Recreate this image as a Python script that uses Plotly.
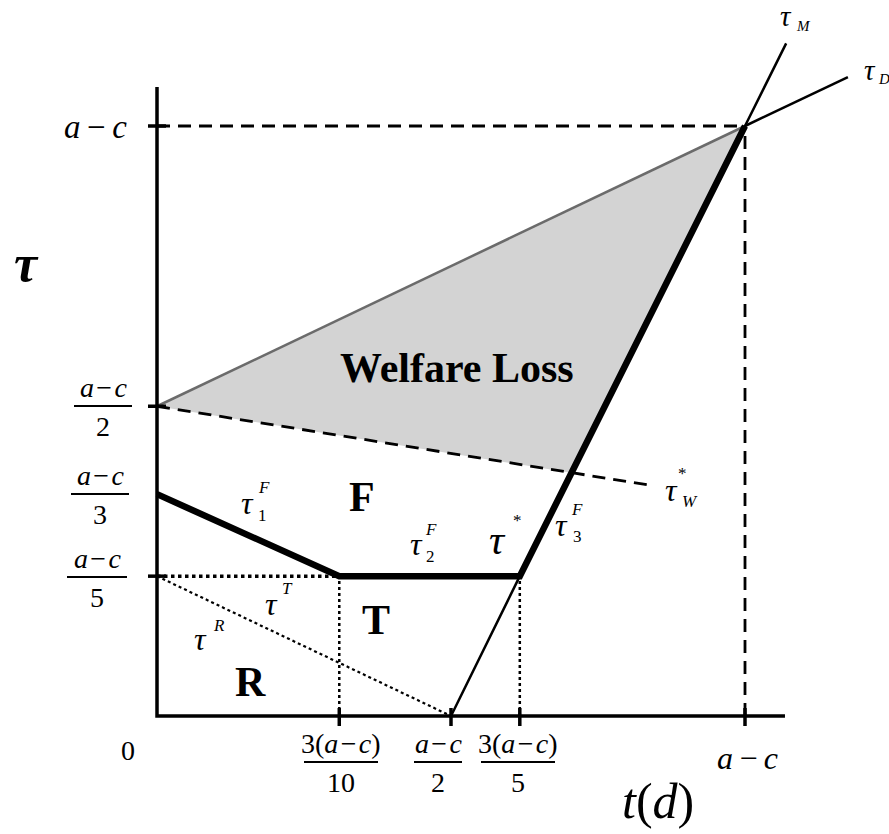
import plotly.graph_objects as go

# Schematic in units of (a - c); positions follow the drawn diagram.
x_tick_vals = [0.31, 0.50, 0.617, 1.0]          # 3(a-c)/10, (a-c)/2, 3(a-c)/5, a-c
y_tick_vals = [0.237, 0.525, 1.0]               # (a-c)/5, (a-c)/2, a-c
y_third = 0.376                                 # (a-c)/3, no tick mark

# tau_D line (gray edge inside the loss area, black beyond a-c)
tau_D_x = [0.0, 1.0, 1.175]
tau_D_y = [0.525, 1.0, 1.083]
# tau_M line
tau_M_x = [0.50, 0.617, 1.0, 1.07]
tau_M_y = [0.0, 0.237, 1.0, 1.14]
# welfare-maximising tariff tau_W*
tau_W_x = [0.0, 0.706, 0.833]
tau_W_y = [0.525, 0.412, 0.392]
# welfare loss region
loss_x = [0.0, 1.0, 0.706, 0.0]
loss_y = [0.525, 1.0, 0.412, 0.525]
# equilibrium tariff tau* (tau1F, tau2F, tau3F)
tau_F_x = [0.0, 0.31, 0.617, 1.0]
tau_F_y = [0.376, 0.237, 0.237, 1.0]
# tau_T and tau_R
tau_T_x = [0.0, 0.31]
tau_T_y = [0.237, 0.237]
tau_R_x = [0.0, 0.50]
tau_R_y = [0.237, 0.0]
# axis extents
x_axis_end = 1.068
y_axis_end = 1.066

W, H = 889, 834
OX, OY, SX, SY = 157, 716, 588, 590
SERIF = "Liberation Serif, Times New Roman, serif"


def dx(px):
    return (px - OX) / SX


def dy(py):
    return (OY - py) / SY


fig = go.Figure()


def line(xs, ys, width, color="black", dash="solid"):
    fig.add_trace(go.Scatter(x=xs, y=ys, mode="lines",
                             line=dict(color=color, width=width, dash=dash),
                             hoverinfo="skip", showlegend=False))


# welfare loss area
fig.add_trace(go.Scatter(x=loss_x, y=loss_y, mode="lines", fill="toself",
                         fillcolor="#d3d3d3", line=dict(width=0),
                         hoverinfo="skip", showlegend=False))

DASH = "13px,8px"
# guide lines at a-c
line([0, x_tick_vals[3]], [y_tick_vals[2], y_tick_vals[2]], 2.8, dash=DASH)
line([x_tick_vals[3], x_tick_vals[3]], [0, y_tick_vals[2]], 2.8, dash=DASH)
# tau_W*
line(tau_W_x, tau_W_y, 2.8, dash=DASH)
# dotted guides
line([tau_F_x[1], tau_F_x[1]], [0, tau_F_y[1]], 2.5, dash="dot")
line([tau_F_x[2], tau_F_x[2]], [0, tau_F_y[2]], 2.5, dash="dot")
line(tau_T_x, tau_T_y, 3.5, dash="dot")
line(tau_R_x, tau_R_y, 2.2, dash="dot")
# tau_D and tau_M
line(tau_D_x[:2], tau_D_y[:2], 2.5, color="#6b6b6b")
line(tau_D_x[1:], tau_D_y[1:], 2.5)
line(tau_M_x, tau_M_y, 2.5)
# tau*
line(tau_F_x, tau_F_y, 6.5)
# axes
line([0, 0, x_axis_end], [y_axis_end, 0, 0], 3.5)

# tick marks crossing the axes
for yv in y_tick_vals:
    fig.add_shape(type="line", xref="x", yref="y", xsizemode="pixel", xanchor=0,
                  x0=-9, x1=9, y0=yv, y1=yv, line=dict(color="black", width=3.5))
for xv in x_tick_vals:
    fig.add_shape(type="line", xref="x", yref="y", ysizemode="pixel", yanchor=0,
                  y0=8, y1=-10, x0=xv, x1=xv, line=dict(color="black", width=3.5))


def text(px, py, s, size, color="black", anchor="center"):
    fig.add_annotation(x=dx(px), y=dy(py), text=s, showarrow=False, xanchor=anchor,
                       yanchor="middle", font=dict(family=SERIF, size=size, color=color))


AC = "<i>a</i>\u200a−\u200a<i>c</i>"
AC_WIDE = "<i>a</i>\u2009−\u2009<i>c</i>"


def frac(cx, ybar, num, den, half_w, size=28):
    text(cx, ybar - 19, num, size)
    text(cx, ybar + 20, den, size)
    fig.add_shape(type="line", xref="x", yref="y", x0=dx(cx - half_w), x1=dx(cx + half_w),
                  y0=dy(ybar), y1=dy(ybar), line=dict(color="black", width=2))


# y labels
text(95, 127, AC_WIDE, 33)
frac(103, 406, AC, "2", 29)
frac(100, 494, AC, "3", 29)
frac(97, 577, AC, "5", 30)
text(26, 263, "<b><i>τ</i></b>", 52)

# x labels
text(128, 750, "0", 28)
frac(341, 762, "3(" + AC + ")", "10", 37)
frac(438, 762, AC, "2", 24)
frac(518, 762, "3(" + AC + ")", "5", 37)
text(747, 758, AC_WIDE, 32)
text(658, 801, "<i>t</i>(<i>d</i>)", 50)

# region names
text(457, 368, "<b>Welfare Loss</b>", 42)
text(362, 497, "<b>F</b>", 42)
text(376, 620, "<b>T</b>", 42)
text(250, 682, "<b>R</b>", 42)


def sym(px, py, size, sup=None, sub=None, sup_xy=None, sub_xy=None, ss=17):
    text(px, py, "<i>τ</i>", size)
    if sup:
        text(sup_xy[0], sup_xy[1], sup, ss)
    if sub:
        text(sub_xy[0], sub_xy[1], sub, ss)


sym(247, 503, 32, "<i>F</i>", "1", (264, 487), (262, 515))
sym(416, 544, 32, "<i>F</i>", "2", (431, 529), (430, 556))
sym(497, 540, 42, "*", None, (517, 520))
sym(561, 525, 32, "<i>F</i>", "3", (577, 509), (577, 536))
sym(271, 604, 32, "<i>T</i>", None, (287, 588))
sym(200, 639, 32, "<i>R</i>", None, (219, 625))
sym(671, 490, 32, "*", "<i>W</i>", (682, 473), (690, 501))
sym(786, 16, 29, None, "<i>M</i>", None, (803, 26), ss=15)
sym(870, 70, 29, None, "<i>D</i>", None, (884, 79), ss=15)

fig.update_layout(
    width=W, height=H, margin=dict(l=0, r=0, t=0, b=0),
    paper_bgcolor="white", plot_bgcolor="white", showlegend=False,
    xaxis=dict(range=[dx(0), dx(W)], visible=False, fixedrange=True),
    yaxis=dict(range=[dy(H), dy(0)], visible=False, fixedrange=True),
)

fig.write_html("out.html")
